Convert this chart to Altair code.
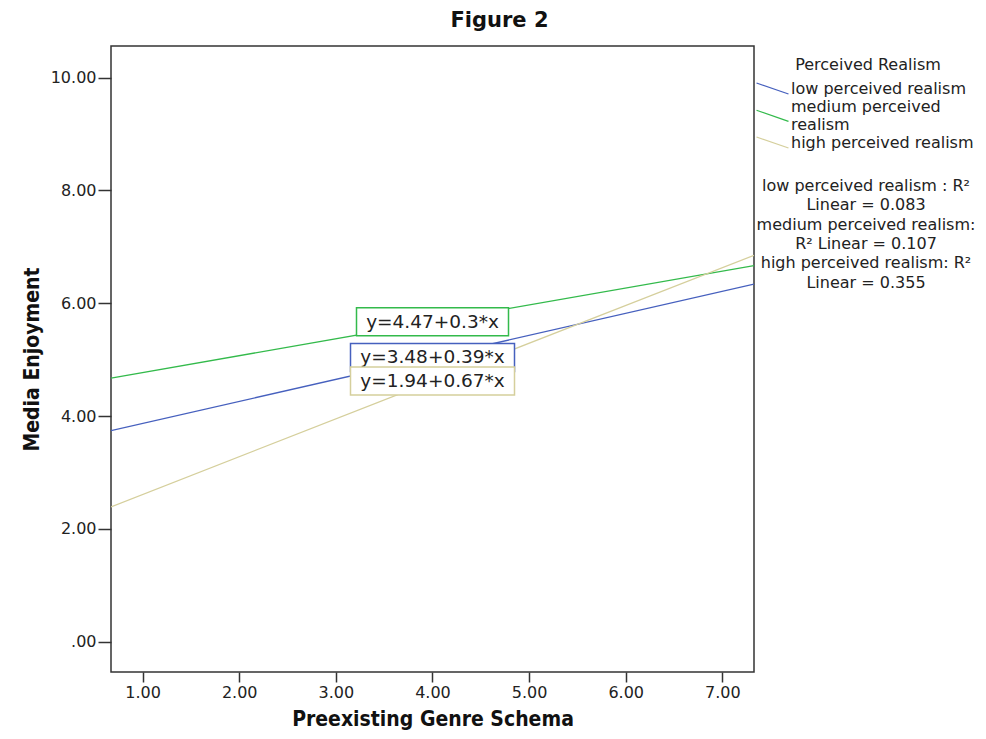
import altair as alt
import pandas as pd

# ---- data ----
series = ["low perceived realism", "medium perceived realism", "high perceived realism"]
intercepts = [3.48, 4.47, 1.94]
slopes = [0.39, 0.30, 0.67]
r2_values = [0.083, 0.107, 0.355]
eq_labels = ["y=3.48+0.39*x", "y=4.47+0.3*x", "y=1.94+0.67*x"]
colors = ["#4660BE", "#33BA4B", "#D5CF9C"]
x_ticks = [1, 2, 3, 4, 5, 6, 7]
y_ticks = [0, 2, 4, 6, 8, 10]
x_domain = [0.673, 7.328]
y_domain = [-0.537, 10.56]

r2_lines = [
    "low perceived realism : R\u00b2",
    f"Linear = {r2_values[0]:.3f}",
    "medium perceived realism:",
    f"R\u00b2 Linear = {r2_values[1]:.3f}",
    "high perceived realism: R\u00b2",
    f"Linear = {r2_values[2]:.3f}",
]

FONT = "DejaVu Sans"
TITLE_FONT = "Liberation Sans Narrow, DejaVu Sans Condensed, Arial Narrow, sans-serif"

# fitted lines across the x range
rows = []
for s, a, b in zip(series, intercepts, slopes):
    for xv in x_domain:
        rows.append({"series": s, "x": xv, "y": a + b * xv})
lines_df = pd.DataFrame(rows)

x_mid = sum(x_domain) / 2

xs = alt.Scale(domain=x_domain, nice=False, zero=False)
ys = alt.Scale(domain=y_domain, nice=False, zero=False)

symbol_expr = (
    "datum.value == 'medium perceived realism' ? 'M-1.88,0.44L1.88,1.74' : 'M-1.88,-0.647L1.88,0.647'"
)

lines = alt.Chart(lines_df).mark_line(clip=True, strokeWidth=1.3).encode(
    x=alt.X("x:Q", scale=xs,
            axis=alt.Axis(values=x_ticks, format=".2f", tickSize=10,
                          title="Preexisting Genre Schema", titlePadding=8)),
    y=alt.Y("y:Q", scale=ys,
            axis=alt.Axis(values=y_ticks, tickSize=13,
                          labelExpr="datum.value == 0 ? '.00' : format(datum.value, '.2f')",
                          title="Media Enjoyment", titlePadding=8)),
    color=alt.Color(
        "series:N",
        scale=alt.Scale(domain=series, range=colors),
        legend=alt.Legend(
            orient="none", legendX=652, legendY=11, direction="vertical",
            title="Perceived Realism", titleFont=FONT, titleFontSize=16,
            titleFontWeight="normal", titleColor="#222", titleAnchor="middle",
            titleAlign="center", titlePadding=6,
            symbolType={"expr": symbol_expr}, symbolSize=289, symbolStrokeWidth=1.3,
            labelFont=FONT, labelFontSize=16, labelColor="#222", labelOffset=9,
            labelLimit=400, rowPadding=-4, padding=0,
            labelExpr="datum.label == 'medium perceived realism' ? ['medium perceived', 'realism'] : datum.label",
        ),
    ),
    detail="series:N",
)

layers = [lines]
for i in [1, 0, 2]:
    ldf = pd.DataFrame({
        "x": [x_mid],
        "y": [intercepts[i] + slopes[i] * x_mid],
        "label": [eq_labels[i]],
    })
    w = round(12.65 * len(eq_labels[i]))
    box = alt.Chart(ldf).mark_rect(
        width=w, height=28, fill="white", stroke=colors[i], strokeWidth=1.5
    ).encode(x=alt.X("x:Q", scale=xs), y=alt.Y("y:Q", scale=ys))
    txt = alt.Chart(ldf).mark_text(
        font=FONT, fontSize=18.5, color="#222", align="center", baseline="middle"
    ).encode(x=alt.X("x:Q", scale=xs), y=alt.Y("y:Q", scale=ys), text="label:N")
    layers += [box, txt]

r2_df = pd.DataFrame({"t": ["\n".join(r2_lines)]})
r2_text = alt.Chart(r2_df).mark_text(
    font=FONT, fontSize=16, color="#222", align="center", baseline="top",
    lineBreak="\n", lineHeight=19.3,
).encode(x=alt.value(755), y=alt.value(132), text="t:N")
layers.append(r2_text)

chart = alt.layer(*layers).properties(
    width=643, height=626,
    title=alt.TitleParams("Figure 2", font=FONT, fontSize=21, fontWeight="bold",
                          color="#111", anchor="middle", dx=67, offset=15),
    autosize=alt.AutoSizeParams(type="none"),
    padding={"left": 103, "top": 38, "right": 224, "bottom": 59},
).configure_view(
    stroke="#333", strokeWidth=1.5
).configure_axis(
    domain=False, grid=False, ticks=True, tickColor="#333", tickWidth=1.5,
    labelFont=FONT, labelFontSize=16, labelColor="#222", labelPadding=2,
    titleFont=TITLE_FONT, titleFontSize=21, titleFontWeight="bold", titleColor="#111",
)

chart.save("out.html", embed_options={"renderer": "svg", "actions": False})
